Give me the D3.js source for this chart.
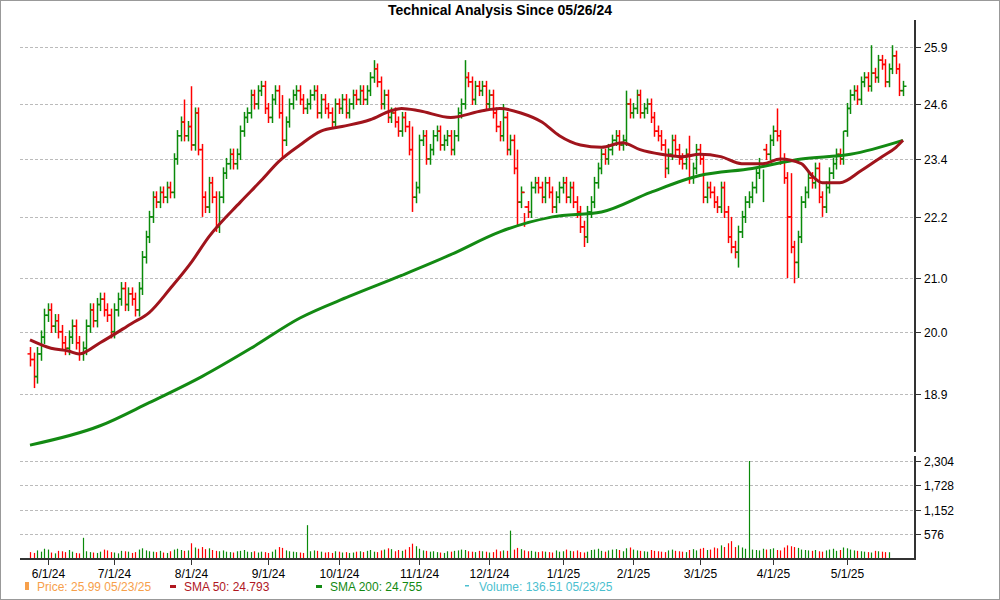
<!DOCTYPE html>
<html><head><meta charset="utf-8">
<script src="https://cdn.jsdelivr.net/npm/d3@7"></script>
<style>body{margin:0;background:#fff;font-family:"Liberation Sans",Arial,sans-serif}</style>
</head><body><svg id="c" width="1000" height="600"></svg>
<script>
const closes=[19.5,19.2,19.6,19.9,20.3,20.4,20.1,20.2,20.0,19.8,
19.7,19.9,20.1,19.8,19.6,19.7,20.1,20.4,20.2,20.5,
20.6,20.4,20.3,20.0,20.4,20.6,20.8,20.5,20.7,20.6,
20.4,20.8,21.4,21.8,22.2,22.6,22.5,22.7,22.6,22.8,
22.7,23.4,23.9,24.2,23.9,24.1,23.7,24.4,23.6,22.6,
22.4,22.9,22.6,22.0,22.6,23.1,23.3,23.5,23.3,23.5,
24.0,24.3,24.4,24.8,24.6,24.9,25.0,24.5,24.3,24.7,
24.9,24.4,23.8,24.2,24.6,24.8,24.9,24.7,24.5,24.6,
24.8,24.9,24.4,24.7,24.5,24.4,24.2,24.6,24.5,24.7,
24.4,24.6,24.8,24.7,24.9,24.7,24.9,25.2,25.4,25.1,
24.6,24.8,24.3,24.4,24.2,24.0,24.3,24.1,23.6,22.6,
22.8,23.8,23.9,23.4,23.6,23.9,24.0,23.7,23.8,23.9,
23.6,23.9,24.4,24.6,25.2,25.1,24.7,25.0,24.9,25.0,
24.6,24.8,24.4,24.1,23.9,24.3,23.6,23.8,23.2,22.5,
22.7,22.4,22.3,22.8,22.9,22.8,22.6,22.9,22.7,22.4,
22.6,22.8,22.9,22.6,22.8,22.5,22.3,22.0,21.8,22.3,
22.5,22.9,23.2,23.5,23.4,23.6,23.8,23.9,23.7,23.8,
24.6,24.4,24.5,24.8,24.4,24.5,24.6,24.3,24.0,23.9,
23.7,23.2,23.5,23.8,23.6,23.4,23.3,23.5,23.0,23.2,
23.6,23.4,22.6,22.8,22.7,22.5,22.4,22.8,22.3,21.8,
21.6,21.5,21.9,22.2,22.5,22.6,22.8,23.1,23.3,23.6,
23.5,23.8,24.0,23.9,23.4,23.0,22.2,21.6,21.3,21.8,
22.5,22.7,23.0,22.9,23.2,22.6,22.4,22.8,23.1,23.3,
23.5,23.4,24.0,24.5,24.8,24.9,24.7,25.1,25.2,25.0,
25.3,25.2,25.6,25.5,25.1,25.4,25.7,25.4,24.9,25.0];
const spreadDefault=0.35;
const bigHighs=[[46,25.0],[44,24.7],[72,24.8],[98,25.6],[109,24.1],[124,25.6],[135,24.6],[139,23.6],[141,22.0],[170,24.9],[188,23.9],[209,22.5],[200,22.2],[213,24.5],[217,23.1],[232,24.0],[246,25.95],[240,25.95]];
const bigLows=[[1,19.0],[49,22.2],[53,21.9],[72,23.4],[109,22.3],[139,22.0],[158,21.6],[181,23.0],[202,21.2],[216,21.0],[218,20.9],[219,21.0],[226,22.2]];
const sma50Pts=[[0,19.85],[6,19.7],[11,19.65],[14,19.6],[20,19.8],[29,20.15],[34,20.35],[40,20.8],[46,21.3],[51,21.8],[60,22.5],[66,22.95],[71,23.35],[77,23.7],[83,24.0],[89,24.1],[97,24.25],[103,24.45],[106,24.5],[111,24.45],[120,24.3],[129,24.45],[134,24.5],[140,24.4],[146,24.2],[151,23.9],[157,23.7],[163,23.65],[169,23.75],[174,23.6],[180,23.5],[186,23.45],[191,23.5],[197,23.45],[203,23.3],[209,23.3],[214,23.4],[220,23.3],[223,23.05],[226,22.9],[231,22.9],[237,23.15],[243,23.45],[247,23.65],[250,23.8]];
const sma200Pts=[[0,18.04],[20,18.36],[34,18.75],[49,19.2],[63,19.7],[77,20.25],[91,20.65],[106,21.05],[120,21.45],[134,21.9],[149,22.2],[163,22.3],[177,22.7],[191,23.05],[206,23.2],[220,23.4],[234,23.5],[250,23.8]];
const volumes=[140,120,180,150,220,200,130,110,170,160,140,190,150,120,110,480,160,140,130,120,150,200,180,140,130,110,170,160,150,120,140,200,230,180,160,150,140,170,130,120,160,200,220,190,170,180,350,250,220,260,210,230,190,170,160,180,150,140,130,160,170,190,150,140,160,130,150,140,120,150,200,260,240,180,160,150,140,130,120,780,160,180,170,150,130,140,120,160,150,130,140,120,130,150,160,140,170,190,150,140,180,200,230,210,160,190,170,200,260,340,280,220,180,170,150,160,140,130,120,160,150,170,180,200,190,160,150,140,170,160,150,130,140,200,160,180,170,650,200,240,210,180,160,170,150,140,160,150,140,130,180,150,160,200,170,160,180,140,130,150,190,200,220,170,150,180,200,210,190,160,230,250,200,180,170,160,150,190,170,160,150,140,180,200,170,160,150,140,190,210,180,220,240,190,200,250,230,300,260,350,400,260,300,250,220,2304,200,190,180,220,200,210,230,190,180,250,300,280,260,240,200,190,180,170,190,160,150,180,200,220,170,190,250,230,200,180,170,160,150,140,130,170,160,150,140,137];
const priceTicks=[18.9,20.0,21.0,22.2,23.4,24.6,25.9];
const volTicks=[576,1152,1728,2304];
const title="Technical Analysis Since 05/26/24";
const legendItems=[["Price: 25.99  05/23/25","#f7a04b"],["SMA 50: 24.793","#b0171f"],["SMA 200: 24.755","#138a13"],["Volume: 136.51  05/23/25","#4bbfcf"]];

const hol=new Set(["2024-06-19","2024-07-04","2024-09-02","2024-11-28","2024-12-25","2025-01-01","2025-01-09","2025-01-20","2025-02-17","2025-04-18"]);
const days=[];let d=new Date(Date.UTC(2025,4,23));
while(days.length<closes.length){const s=d.toISOString().slice(0,10);const w=d.getUTCDay();if(w!==0&&w!==6&&!hol.has(s))days.unshift(new Date(d));d=new Date(d.getTime()-864e5);}
const n=closes.length;
const svg=d3.select("#c");
const L=30,R=903,axisX=915;
const x=d3.scaleLinear().domain([0,n-1]).range([L,R]);
const y=d3.scaleLog().domain([17.96,26.6]).range([450,18]);
const yv=d3.scaleLinear().domain([0,2304]).range([558,461]);
svg.append("rect").attr("x",0.5).attr("y",0.5).attr("width",999).attr("height",599).attr("fill","none").attr("stroke","#999");
svg.append("text").attr("x",500).attr("y",15).attr("text-anchor","middle").attr("font-weight","bold").attr("font-size",14).text(title);
priceTicks.forEach(t=>svg.append("line").attr("x1",20).attr("x2",axisX).attr("y1",Math.round(y(t))+0.5).attr("y2",Math.round(y(t))+0.5).attr("stroke","#bbb").attr("stroke-dasharray","3,2"));
volTicks.forEach(t=>svg.append("line").attr("x1",20).attr("x2",axisX).attr("y1",Math.round(yv(t))+0.5).attr("y2",Math.round(yv(t))+0.5).attr("stroke","#bbb").attr("stroke-dasharray","3,2"));
const hiMap=new Map(bigHighs),loMap=new Map(bigLows);
const bars=closes.map((c,i)=>{const o=i?closes[i-1]:c+0.1;let h=Math.max(o,c)+spreadDefault*0.35,l=Math.min(o,c)-spreadDefault*0.35;if(hiMap.has(i))h=hiMap.get(i);if(loMap.has(i))l=loMap.get(i);return{i,o,c,h,l,up:c>=o};});
const g=svg.append("g").attr("stroke-width",1.5);
bars.forEach(b=>{const col=b.up?"#0a8a0a":"#f00";const xx=Math.round(x(b.i))+0.5;
g.append("line").attr("x1",xx).attr("x2",xx).attr("y1",y(b.h)).attr("y2",y(b.l)).attr("stroke",col);
g.append("line").attr("x1",xx-3).attr("x2",xx).attr("y1",y(b.o)).attr("y2",y(b.o)).attr("stroke",col);
g.append("line").attr("x1",xx).attr("x2",xx+3).attr("y1",y(b.c)).attr("y2",y(b.c)).attr("stroke",col);});
const line=d3.line().x(p=>x(p[0])).y(p=>y(p[1])).curve(d3.curveMonotoneX);
svg.append("path").attr("d",line(sma200Pts.map(p=>[Math.min(p[0],n-1),p[1]]))).attr("fill","none").attr("stroke","#138a13").attr("stroke-width",3);
svg.append("path").attr("d",line(sma50Pts.map(p=>[Math.min(p[0],n-1),p[1]]))).attr("fill","none").attr("stroke","#a0141c").attr("stroke-width",3);
volumes.slice(0,n).forEach((v,i)=>{svg.append("line").attr("x1",Math.round(x(i))+0.5).attr("x2",Math.round(x(i))+0.5).attr("y1",yv(0)).attr("y2",yv(v)).attr("stroke",bars[i].up?"#0a8a0a":"#f00").attr("stroke-width",1.2);});
svg.append("line").attr("x1",20).attr("x2",axisX).attr("y1",559).attr("y2",559).attr("stroke","#333").attr("stroke-width",2);
svg.append("line").attr("x1",axisX).attr("x2",axisX).attr("y1",20).attr("y2",560).attr("stroke","#333").attr("stroke-width",2);
svg.append("line").attr("x1",axisX).attr("x2",axisX).attr("y1",452).attr("y2",456).attr("stroke","#fff").attr("stroke-width",3);
priceTicks.forEach(t=>{const yy=Math.round(y(t))+0.5;svg.append("line").attr("x1",axisX).attr("x2",axisX+6).attr("y1",yy).attr("y2",yy).attr("stroke","#333");
svg.append("text").attr("x",axisX+9).attr("y",yy+4).attr("font-size",12).text(t.toFixed(1));});
volTicks.forEach(t=>{const yy=Math.round(yv(t))+0.5;svg.append("line").attr("x1",axisX).attr("x2",axisX+6).attr("y1",yy).attr("y2",yy).attr("stroke","#333");
svg.append("text").attr("x",axisX+9).attr("y",yy+4).attr("font-size",12).text(d3.format(",")(t));});
const fmt=d=>`${d.getUTCMonth()+1}/1/${String(d.getUTCFullYear()).slice(2)}`;
days.forEach((dd,i)=>{if(i>0&&dd.getUTCMonth()!==days[i-1].getUTCMonth()){const xx=Math.round(x(i))+0.5;
svg.append("line").attr("x1",xx).attr("x2",xx).attr("y1",559).attr("y2",565).attr("stroke","#333");
svg.append("text").attr("x",xx).attr("y",578).attr("text-anchor","middle").attr("font-size",12).text(fmt(dd));}});
const lx=[25,170,316,465];
legendItems.forEach((it,k)=>{const gg=svg.append("g").attr("transform",`translate(${lx[k]},591)`);
if(k===0)gg.append("rect").attr("x",0).attr("y",-9).attr("width",4).attr("height",8).attr("fill",it[1]);
else gg.append("rect").attr("x",0).attr("y",-6).attr("width",k===3?4:6).attr("height",k===3?1.5:3).attr("fill",it[1]);
gg.append("text").attr("x",k===0?12:14).attr("y",0).attr("font-size",12).attr("fill",it[1]).text(it[0]);});
</script></body></html>
